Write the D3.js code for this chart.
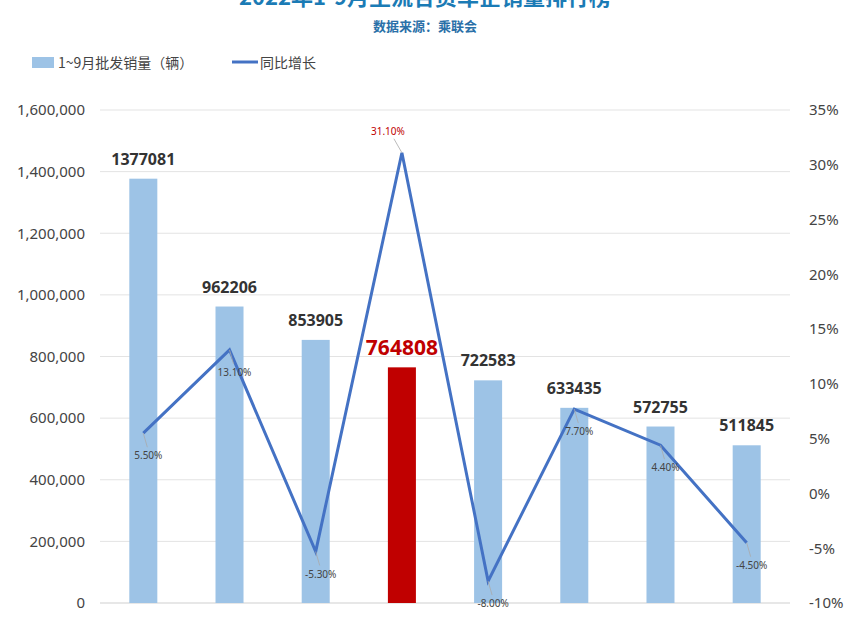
<!DOCTYPE html>
<html><head><meta charset="utf-8">
<script src="https://cdn.jsdelivr.net/npm/d3@7"></script>
<style>body{margin:0;background:#fff;font-family:"Noto Sans CJK SC","Noto Sans",sans-serif;}</style>
</head><body><svg id="chart" width="850" height="618"></svg>
<script>
// 数据
var brands = ["一汽-大众", "上汽大众", "一汽丰田", "上汽通用", "广汽丰田", "东风日产", "华晨宝马", "东风本田"];
var sales = [1377081, 962206, 853905, 764808, 722583, 633435, 572755, 511845];
var growth = [5.5, 13.1, -5.3, 31.1, -8.0, 7.7, 4.4, -4.5];
var leftTicks = [0, 200000, 400000, 600000, 800000, 1000000, 1200000, 1400000, 1600000];
var rightTicks = [-10, -5, 0, 5, 10, 15, 20, 25, 30, 35];
var highlight = 3;

var svg = d3.select('#chart');
var x = d3.scaleBand().domain(brands).range([100, 790]).paddingInner(0.675).paddingOuter(0.34);
var y = d3.scaleLinear().domain([0, 1600000]).range([603, 110]);
var y2 = d3.scaleLinear().domain([-10, 35]).range([603, 110]);

// title
svg.append('text').attr('x', 425).attr('y', 5).attr('text-anchor', 'middle')
    .attr('font-size', 22).attr('font-weight', 'bold').attr('fill', '#1b7bb5')
    .text('2022年1-9月主流合资车企销量排行榜');
svg.append('text').attr('x', 425).attr('y', 31).attr('text-anchor', 'middle')
    .attr('font-size', 13).attr('font-weight', 'bold').attr('fill', '#2a70a8').text('数据来源：乘联会');

// legend
svg.append('rect').attr('x', 32).attr('y', 57).attr('width', 22).attr('height', 11).attr('fill', '#9dc3e6');
svg.append('text').attr('x', 58).attr('y', 68).attr('font-size', 14).attr('fill', '#444').text('1~9月批发销量（辆）');
svg.append('line').attr('x1', 232).attr('x2', 258).attr('y1', 62).attr('y2', 62).attr('stroke', '#4472c4').attr('stroke-width', 3);
svg.append('text').attr('x', 260).attr('y', 68).attr('font-size', 14).attr('fill', '#444').text('同比增长');

// grid + axes
svg.append('g').selectAll('line').data(leftTicks).join('line')
    .attr('x1', 100).attr('x2', 790).attr('y1', d => y(d)).attr('y2', d => y(d))
    .attr('stroke', d => d === 0 ? '#cfcfcf' : '#e3e3e3');
var ax = svg.append('g').attr('transform', 'translate(88,0)')
    .call(d3.axisLeft(y).tickValues(leftTicks).tickSize(0).tickFormat(d3.format(',')));
var ax2 = svg.append('g').attr('transform', 'translate(806,0)')
    .call(d3.axisRight(y2).tickValues(rightTicks).tickSize(0).tickFormat(d => d + '%'));
[ax, ax2].forEach(function (a) {
    a.select('.domain').remove();
    a.selectAll('text').attr('font-size', 15).attr('fill', '#444').attr('font-family', 'Noto Sans, sans-serif');
});

// bars
svg.append('g').selectAll('rect').data(sales).join('rect')
    .attr('x', (d, i) => x(brands[i])).attr('width', x.bandwidth())
    .attr('y', d => y(d)).attr('height', d => y(0) - y(d))
    .attr('fill', (d, i) => i === highlight ? '#c00000' : '#9dc3e6');
svg.append('g').selectAll('text').data(sales).join('text')
    .attr('x', (d, i) => x(brands[i]) + x.bandwidth() / 2)
    .attr('y', (d, i) => y(d) - (i === highlight ? 12 : 14))
    .attr('text-anchor', 'middle').attr('font-weight', 'bold').attr('font-family', 'Noto Sans, sans-serif')
    .attr('font-size', (d, i) => i === highlight ? 21 : 16)
    .attr('fill', (d, i) => i === highlight ? '#c00000' : '#333')
    .text(d => d);

// growth line
var cx = i => x(brands[i]) + x.bandwidth() / 2;
svg.append('path').datum(growth)
    .attr('d', d3.line().x((d, i) => cx(i)).y(d => y2(d)))
    .attr('fill', 'none').attr('stroke', '#4472c4').attr('stroke-width', 3);

var gl = svg.append('g').selectAll('g').data(growth).join('g');
gl.append('line')
    .attr('x1', (d, i) => cx(i)).attr('x2', (d, i) => cx(i) + (i === highlight ? -8 : 4))
    .attr('y1', d => y2(d)).attr('y2', (d, i) => y2(d) + (i === highlight ? -14 : 14))
    .attr('stroke', '#aaa').attr('stroke-width', 0.8);
gl.append('text')
    .attr('x', (d, i) => cx(i) + (i === highlight ? -14 : 5))
    .attr('y', (d, i) => y2(d) + (i === highlight ? -18 : 26))
    .attr('text-anchor', 'middle').attr('font-size', 10).attr('font-family', 'Noto Sans, sans-serif')
    .attr('fill', (d, i) => i === highlight ? '#c00000' : '#444')
    .text(d => d.toFixed(2) + '%');
</script></body></html>
